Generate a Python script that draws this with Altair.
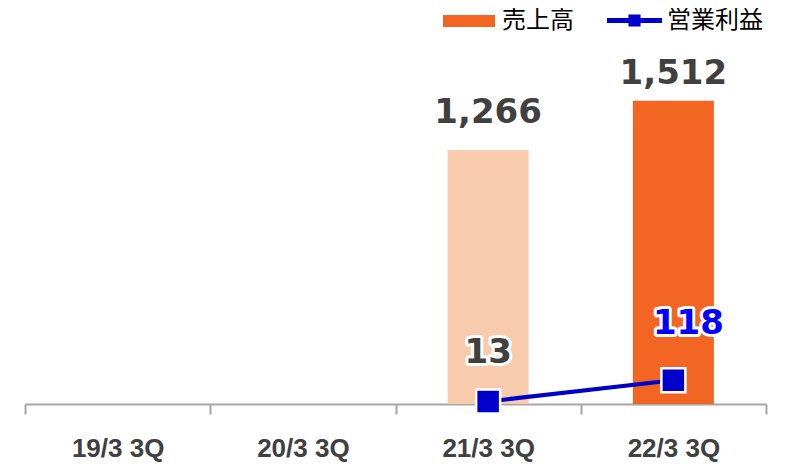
import altair as alt
import pandas as pd

categories = ["19/3 3Q", "20/3 3Q", "21/3 3Q", "22/3 3Q"]
sales = [None, None, 1266, 1512]
sales_labels = ["", "", "1,266", "1,512"]
bar_keys = ["", "", "prev", "売上高"]
profit = [None, None, 13, 118]
profit_labels = ["", "", "13", "118"]

df = pd.DataFrame({
    "cat": categories,
    "sales": sales,
    "slabel": sales_labels,
    "key": bar_keys,
    "profit": profit,
    "plabel": profit_labels,
    "series": ["営業利益"] * 4,
})

base = alt.Chart(df)

x = alt.X(
    "cat:N",
    sort=categories,
    scale=alt.Scale(domain=categories, paddingInner=0, paddingOuter=0),
    axis=alt.Axis(
        title=None, labelAngle=0, tickBand="extent", grid=False,
        domainColor="#A6A6A6", domainWidth=2, tickColor="#A6A6A6", tickWidth=2,
        tickSize=10, labelFont="Liberation Sans", labelFontSize=26,
        labelFontWeight="bold", labelColor="#404040", labelPadding=21,
    ),
)
yscale = alt.Scale(domain=[0, 1800])

bars = base.mark_bar(size=81).encode(
    x=x,
    y=alt.Y("sales:Q", scale=yscale, axis=None),
    color=alt.Color(
        "key:N",
        scale=alt.Scale(domain=["売上高", "prev"], range=["#F26522", "#F8CBAD"]),
        legend=alt.Legend(
            orient="none", legendX=418, legendY=-48, title=None, values=["売上高"],
            symbolType="M-1,-0.23H1V0.23H-1Z", symbolSize=2704, symbolStrokeWidth=0,
            labelFont="Noto Sans CJK JP", labelFontSize=24, labelColor="#000000",
            labelOffset=7, padding=0,
        ),
    ),
).transform_filter("isValid(datum.sales)")

txt_style = dict(font="DejaVu Sans", fontSize=34, fontWeight="bold", baseline="alphabetic")

sales_lbl1 = base.mark_text(dy=-27, color="#404040", **txt_style).encode(
    x=x, y=alt.Y("sales:Q", scale=yscale, axis=None), text="slabel:N"
).transform_filter("datum.cat == '21/3 3Q'")
sales_lbl2 = base.mark_text(dy=-17, color="#404040", **txt_style).encode(
    x=x, y=alt.Y("sales:Q", scale=yscale, axis=None), text="slabel:N"
).transform_filter("datum.cat == '22/3 3Q'")

line = base.mark_line(color="#0000CC", strokeWidth=4).encode(
    x=x, y=alt.Y("profit:Q", scale=yscale, axis=None)
).transform_filter("isValid(datum.profit)")

points = base.mark_point(shape="square", filled=True, size=576, stroke="white",
                         strokeWidth=2.5, opacity=1).encode(
    x=x,
    y=alt.Y("profit:Q", scale=yscale, axis=None),
    fill=alt.Fill(
        "series:N",
        scale=alt.Scale(domain=["営業利益"], range=["#0000CC"]),
        legend=alt.Legend(
            orient="none", legendX=582, legendY=-50, title=None,
            symbolType="M-1,-0.09H1V0.09H-1Z M-0.22,-0.22H0.22V0.22H-0.22Z",
            symbolSize=3025, symbolStrokeWidth=0,
            labelFont="Noto Sans CJK JP", labelFontSize=24, labelColor="#000000",
            labelOffset=5, padding=0,
        ),
    ),
).transform_filter("isValid(datum.profit)")

def plabel(cat, dx, dy, color):
    halo = base.mark_text(dx=dx, dy=dy, fill="white", stroke="white", strokeWidth=6,
                          strokeJoin="round", **txt_style).encode(
        x=x, y=alt.Y("profit:Q", scale=yscale, axis=None), text="plabel:N"
    ).transform_filter(f"datum.cat == '{cat}'")
    main = base.mark_text(dx=dx, dy=dy, color=color, **txt_style).encode(
        x=x, y=alt.Y("profit:Q", scale=yscale, axis=None), text="plabel:N"
    ).transform_filter(f"datum.cat == '{cat}'")
    return halo + main

chart = alt.layer(
    bars, sales_lbl1, sales_lbl2, line, points,
    plabel("21/3 3Q", 0, -38, "#404040"),
    plabel("22/3 3Q", 15, -46, "#0000FF"),
).resolve_scale(y="shared").properties(
    width=741, height=361,
    autosize=alt.AutoSizeParams(type="none"),
    padding={"left": 17, "top": 35, "right": 18, "bottom": 62},
).configure_view(stroke=None)

chart.save("out.html", embed_options={"renderer": "svg", "actions": False})
